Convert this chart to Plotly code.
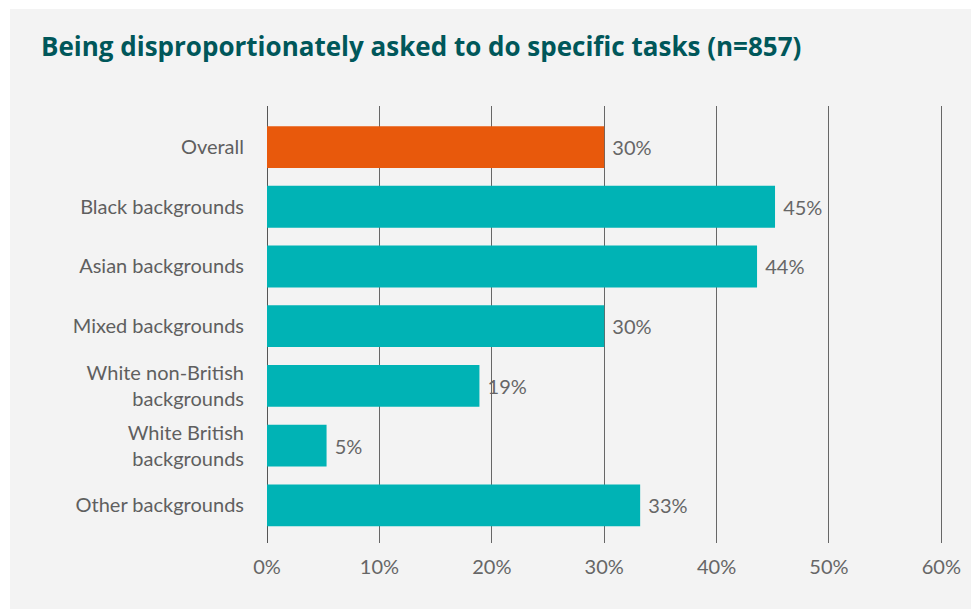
import plotly.graph_objects as go

categories = ["Overall", "Black backgrounds", "Asian backgrounds", "Mixed backgrounds",
              "White non-British<br>backgrounds", "White British<br>backgrounds", "Other backgrounds"]
values = [30.0, 45.2, 43.6, 30.0, 18.9, 5.3, 33.2]
bar_colors = ["#e8590c", "#00b3b5", "#00b3b5", "#00b3b5", "#00b3b5", "#00b3b5", "#00b3b5"]
tick_vals = [0, 10, 20, 30, 40, 50, 60]
tick_text = ["0%", "10%", "20%", "30%", "40%", "50%", "60%"]

W, H = 971, 601
L, R, T, B = 259, 32, 98, 66
pw, ph = W - L - R, H - T - B

fig = go.Figure(go.Bar(
    x=values, y=categories, orientation="h",
    marker=dict(color=bar_colors, line=dict(width=0)),
    text=[f" {v:.0f}%" for v in values], textposition="outside",
    textfont=dict(family="Lato", size=20, color="#666666"),
    cliponaxis=False,
))

fig.update_layout(
    width=W, height=H,
    margin=dict(l=L, r=R, t=T, b=B, autoexpand=False),
    paper_bgcolor="#f3f3f3", plot_bgcolor="#f3f3f3",
    showlegend=False,
    title=dict(text="<b>Being disproportionately asked to do specific tasks (n=857)</b>",
               x=33 / W, xanchor="left", y=1 - 39 / H, yanchor="middle",
               font=dict(family="Open Sans", size=26, color="#00575a")),
    xaxis=dict(range=[0, 60.5], tickvals=tick_vals, ticktext=tick_text,
               showgrid=True, gridcolor="#666666", gridwidth=1,
               zeroline=True, zerolinecolor="#555555", zerolinewidth=1,
               ticks="", ticklabelstandoff=10,
               tickfont=dict(family="Lato", size=20, color="#666666"), fixedrange=True),
    yaxis=dict(categoryorder="array", categoryarray=categories,
               range=[6.63, -0.687], showgrid=False, zeroline=False,
               ticks="", ticklabelstandoff=22,
               tickfont=dict(family="Lato", size=20, color="#5f5f5f")),
    bargap=0.3,
    shapes=[
        dict(type="rect", xref="paper", yref="paper",
             x0=-L / pw, x1=(-L + 2) / pw, y0=-B / ph, y1=(ph + T) / ph,
             fillcolor="white", line=dict(width=0), layer="above"),
        dict(type="rect", xref="paper", yref="paper",
             x0=-L / pw, x1=(pw + R) / pw, y0=(ph + T - 1) / ph, y1=(ph + T) / ph,
             fillcolor="white", line=dict(width=0), layer="above"),
    ],
)

fig.write_html("out.html")
